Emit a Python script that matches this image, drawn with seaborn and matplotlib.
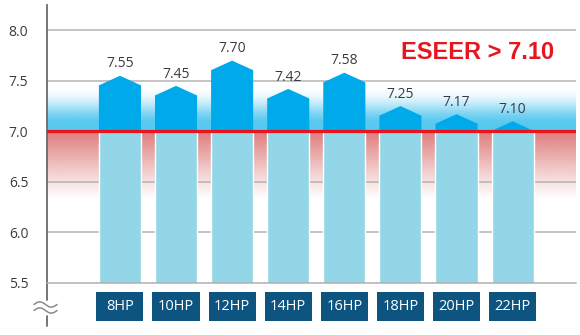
import numpy as np
import matplotlib
matplotlib.use("Agg")
import matplotlib.pyplot as plt
from matplotlib.patches import Polygon, Rectangle
from matplotlib.lines import Line2D
import seaborn as sns

# ---- data ----
models = ["8HP", "10HP", "12HP", "14HP", "16HP", "18HP", "20HP", "22HP"]
eseer = [7.55, 7.45, 7.70, 7.42, 7.58, 7.25, 7.17, 7.10]
value_labels = ["7.55", "7.45", "7.70", "7.42", "7.58", "7.25", "7.17", "7.10"]
baseline = 7.0
yticks = [5.5, 6.0, 6.5, 7.0, 7.5, 8.0]
ytick_labels = ["5.5", "6.0", "6.5", "7.0", "7.5", "8.0"]
headline = "ESEER > 7.10"

# ---- style ----
sns.set_style("white")
plt.rcParams["font.family"] = ["Open Sans", "DejaVu Sans"]

LIGHT = "#92d6e8"
DARK = "#00aaea"
RED = "#e8141e"
NAVY = "#0e5481"
TXT = "#3a3a44"

fig = plt.figure(figsize=(5.8, 3.35), dpi=100)
W, H = 580, 335
ax_l, ax_r, ax_t, ax_b = 47, 576, 5, 283
ax = fig.add_axes([ax_l / W, 1 - ax_b / H, (ax_r - ax_l) / W, (ax_b - ax_t) / H])
XL = (-1.30, 8.13)

def px2ax(px, py):
    return (px - ax_l) / (ax_r - ax_l), (ax_b - py) / (ax_b - ax_t)

# body bars via seaborn
sns.barplot(x=models, y=[baseline] * len(models), color=LIGHT, width=0.75,
            saturation=1, ax=ax, zorder=2, order=models)
ax.set_xlim(*XL)
ax.set_ylim(5.5, 8.25)

# gradient band behind everything
ys = np.linspace(6.2, 7.6, 500)
img = np.ones((len(ys), 2, 4))
for i, v in enumerate(ys):
    if v >= baseline:
        t = np.clip((v - 7.06) / 0.40, 0.0, 1.0)
        a = 1 - (3 * t ** 2 - 2 * t ** 3)
        a = a ** 1.3
        c = np.array([88, 200, 240]) / 255
    else:
        t = np.clip((baseline - v) / 0.68, 0.0, 1.0)
        a = (1 - t) ** 1.1
        c = np.array([222, 122, 122]) / 255
    img[i, :, :3] = c
    img[i, :, 3] = a
ax.imshow(img, extent=[XL[0], XL[1], ys[0], ys[-1]], origin="lower",
          aspect="auto", zorder=0, interpolation="bilinear")
ax.set_xlim(*XL)
ax.set_ylim(5.5, 8.25)

# grid lines
for yv in [6.0, 6.5, 7.5, 8.0]:
    ax.axhline(yv, color="#b4b4b4", lw=1.1, zorder=0.5)

# pentagon tops
roof = 0.095
bars = list(ax.patches)
for p, v, lab in zip(bars, eseer, value_labels):
    x0 = p.get_x()
    w = p.get_width()
    xc = x0 + w / 2
    r = min(roof, v - baseline)
    poly = Polygon([(x0, baseline), (x0, v - r), (xc, v), (x0 + w, v - r),
                    (x0 + w, baseline)], closed=True, facecolor=DARK,
                   edgecolor="none", zorder=3)
    ax.add_patch(poly)
    ax.annotate(lab, (xc, v), xytext=(0, 8.5), textcoords="offset points",
                ha="center", va="center", fontsize=10, color=TXT, zorder=5)
    bw = 0.84
    ax.add_patch(Rectangle((xc - bw / 2, -0.137), bw, 0.105,
                           transform=ax.get_xaxis_transform(),
                           facecolor=NAVY, edgecolor="none", clip_on=False,
                           zorder=5))
ax.set_xticks([])
for p, m in zip(bars, models):
    xc = p.get_x() + p.get_width() / 2
    ax.text(xc, -0.085, m, transform=ax.get_xaxis_transform(), ha="center",
            va="center", color="white", fontsize=10.5, zorder=6, clip_on=False)

# threshold line
ax.axhline(baseline, color=RED, lw=2.3, zorder=4)

# headline
ax.text(6.38, 7.78, headline, ha="center", va="center", color=RED,
        fontsize=17, fontweight="bold", family=["Liberation Sans", "DejaVu Sans"],
        zorder=6)

# axes styling
ax.set_yticks(yticks)
ax.set_yticklabels(ytick_labels)
ax.tick_params(axis="y", length=0, pad=13.5, labelsize=10, labelcolor=TXT)
ax.set_xlabel("")
ax.set_ylabel("")
for s in ["top", "right"]:
    ax.spines[s].set_visible(False)
ax.spines["left"].set_color("#6a6a6a")
ax.spines["left"].set_linewidth(1.3)
ax.spines["bottom"].set_color("#b0b0b0")
ax.spines["bottom"].set_linewidth(1.1)

# axis extension with break mark
x_ax, _ = px2ax(47, 0)
for (py0, py1) in [(283, 300), (316, 326)]:
    _, a0 = px2ax(0, py0)
    _, a1 = px2ax(0, py1)
    ax.add_line(Line2D([x_ax, x_ax], [a0, a1], transform=ax.transAxes,
                       color="#6a6a6a", lw=1.3, clip_on=False))
xs = np.linspace(34, 57, 60)
for base in [304.5, 310.5]:
    yy = base - 2.6 * np.sin((xs - 34) / 23 * 2 * np.pi)
    pts = [px2ax(a, b) for a, b in zip(xs, yy)]
    ax.add_line(Line2D([q[0] for q in pts], [q[1] for q in pts],
                       transform=ax.transAxes, color="#8a8a8a", lw=1.1,
                       clip_on=False))

fig.savefig("out.png", dpi=100)
